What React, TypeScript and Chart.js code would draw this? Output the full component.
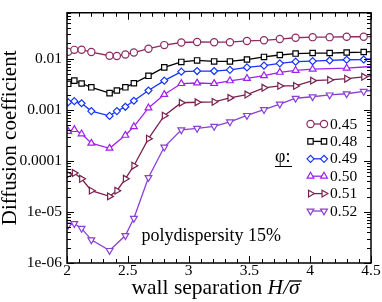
import React, { useEffect, useRef } from 'react';
import { Chart, registerables } from 'chart.js';
import { drawPoint } from 'chart.js/helpers';

Chart.register(...registerables);

// wall separation H/sigma (x values)
const H = [2.01, 2.06, 2.12, 2.2, 2.35, 2.41, 2.48, 2.55, 2.67, 2.8, 2.94, 3.07, 3.21, 3.34, 3.48, 3.62, 3.75, 3.88, 4.02, 4.16, 4.3, 4.44, 4.58];

const phiLabels = ['0.45', '0.48', '0.49', '0.50', '0.51', '0.52'];

const D045 = [0.0137, 0.015, 0.0151, 0.0136, 0.0115, 0.0114, 0.0122, 0.0133, 0.0158, 0.0186, 0.0209, 0.0214, 0.0212, 0.0212, 0.0224, 0.0231, 0.0244, 0.0259, 0.0266, 0.0266, 0.0271, 0.0271, 0.0273];
const D048 = [0.00324, 0.00374, 0.00329, 0.00277, 0.00213, 0.0024, 0.00277, 0.00333, 0.00465, 0.0068, 0.0087, 0.0093, 0.0089, 0.0089, 0.0097, 0.0109, 0.0119, 0.0127, 0.013, 0.013, 0.0133, 0.0136, 0.0143];
const D049 = [0.00141, 0.00148, 0.00135, 0.000946, 0.000762, 0.000946, 0.00115, 0.00151, 0.0024, 0.00374, 0.0056, 0.00577, 0.00577, 0.0061, 0.0068, 0.00738, 0.00816, 0.0088, 0.009, 0.0093, 0.0096, 0.0097, 0.0103];
const D050 = [3.78e-4, 4.12e-4, 3.39e-4, 2.22e-4, 1.77e-4, null, 3.18e-4, 4.69e-4, 1.09e-3, 2.0e-3, 3.28e-3, 3.36e-3, 3.28e-3, 3.71e-3, 4.14e-3, 4.69e-3, 5.45e-3, 5.95e-3, 6.29e-3, null, 6.57e-3, null, 7.3e-3];
const D051 = [5.38e-5, 5.79e-5, 4.47e-5, 2.61e-5, 2.02e-5, 2.61e-5, 4.47e-5, 8.05e-5, 2.73e-4, 7.71e-4, 1.38e-3, 1.41e-3, 1.44e-3, 1.72e-3, 2.0e-3, 2.71e-3, 2.95e-3, 2.95e-3, 3.74e-3, 3.86e-3, 4.08e-3, 4.45e-3, 4.96e-3];
const D052 = [5.55e-6, 5.92e-6, 4.77e-6, 2.84e-6, 1.76e-6, null, 3.45e-6, 7.52e-6, 4.73e-5, 1.87e-4, 4.06e-4, 4.36e-4, 4.75e-4, 5.82e-4, 7.78e-4, 1.01e-3, 1.3e-3, 1.69e-3, 1.81e-3, 1.96e-3, 2.07e-3, 2.3e-3, 2.54e-3];

const seriesValues = [D045, D048, D049, D050, D051, D052];

const xTickValues = [2, 2.5, 3, 3.5, 4, 4.5];
const xTickLabels = ['2', '2.5', '3', '3.5', '4', '4.5'];
const yTickValues = [1e-6, 1e-5, 1e-4, 1e-3, 1e-2];
const yTickLabels = ['1e-06', '1e-05', '0.0001', '0.001', '0.01'];

const SERIF = '"Liberation Serif", "DejaVu Serif", "Times New Roman", serif';

const seriesStyles = [
  { color: '#8B2C62', pointStyle: 'circle', rotation: 0, radius: 3.6 },
  { color: '#000000', pointStyle: 'rect', rotation: 0, radius: 3.8 },
  { color: '#1535FF', pointStyle: 'rectRot', rotation: 0, radius: 3.5 },
  { color: '#A020F0', pointStyle: 'triangle', rotation: 0, radius: 3.9 },
  { color: '#7A2150', pointStyle: 'triangle', rotation: 90, radius: 3.9 },
  { color: '#8A3FD6', pointStyle: 'triangle', rotation: 180, radius: 3.9 },
];

const decorPlugin = {
  id: 'decor',
  afterDraw(chart: any) {
    const { ctx, chartArea: a, scales } = chart;
    const xs = scales.x;
    const ys = scales.y;
    ctx.save();
    ctx.strokeStyle = '#000';
    ctx.lineWidth = 1;
    ctx.beginPath();
    for (let i = 0; i <= 25; i++) {
      const v = 2 + i * 0.1;
      const px = Math.round(xs.getPixelForValue(v)) + 0.5;
      const len = i % 5 === 0 ? 7 : 4;
      ctx.moveTo(px, a.bottom);
      ctx.lineTo(px, a.bottom - len);
      ctx.moveTo(px, a.top);
      ctx.lineTo(px, a.top + len);
    }
    for (let e = -6; e <= -2; e++) {
      for (let m = 1; m <= 9; m++) {
        const v = m * Math.pow(10, e);
        if (v > ys.max) break;
        const py = Math.round(ys.getPixelForValue(v)) + 0.5;
        const len = m === 1 ? 7 : 4;
        ctx.moveTo(a.left, py);
        ctx.lineTo(a.left + len, py);
        ctx.moveTo(a.right, py);
        ctx.lineTo(a.right - len, py);
      }
    }
    ctx.stroke();
    ctx.lineWidth = 1.5;
    ctx.strokeRect(a.left, a.top, a.right - a.left, a.bottom - a.top);

    // y title
    ctx.fillStyle = '#000';
    ctx.save();
    ctx.translate(16, (a.top + a.bottom) / 2);
    ctx.rotate(-Math.PI / 2);
    ctx.font = `21px ${SERIF}`;
    ctx.textAlign = 'center';
    ctx.textBaseline = 'alphabetic';
    ctx.fillText('Diffusion coefficient', 0, 0);
    ctx.restore();

    // x title
    ctx.textAlign = 'left';
    ctx.textBaseline = 'alphabetic';
    const base = 293.5;
    let x = 131.5;
    ctx.font = `21.5px ${SERIF}`;
    const t1 = 'wall separation ';
    ctx.fillText(t1, x, base);
    x += ctx.measureText(t1).width;
    ctx.font = `italic 21.5px ${SERIF}`;
    const t2 = 'H/';
    ctx.fillText(t2, x, base);
    x += ctx.measureText(t2).width;
    const t3 = 'σ';
    ctx.fillText(t3, x, base);
    const w3 = ctx.measureText(t3).width;
    ctx.lineWidth = 1.4;
    ctx.beginPath();
    ctx.moveTo(x + 1, 281);
    ctx.lineTo(x + w3 + 2, 281);
    ctx.stroke();

    // legend
    ctx.font = `15.5px ${SERIF}`;
    ctx.textBaseline = 'middle';
    for (let i = 0; i < seriesStyles.length; i++) {
      const s = seriesStyles[i];
      const yy = 124 + 17.4 * i;
      ctx.strokeStyle = s.color;
      ctx.lineWidth = 1.3;
      ctx.beginPath();
      ctx.moveTo(310.5, yy);
      ctx.lineTo(324, yy);
      ctx.stroke();
      ctx.fillStyle = '#fff';
      ctx.lineWidth = 1.2;
      const opts = { pointStyle: s.pointStyle, rotation: s.rotation, radius: s.radius, borderWidth: 1.2 };
      drawPoint(ctx, opts as any, 310.5, yy);
      drawPoint(ctx, opts as any, 324, yy);
      ctx.fillStyle = '#000';
      ctx.fillText(phiLabels[i], 330, yy + 0.5);
    }

    // phi label
    ctx.font = `18px ${SERIF}`;
    ctx.textBaseline = 'middle';
    ctx.fillText('φ:', 275, 157);
    ctx.strokeStyle = '#000';
    ctx.lineWidth = 1;
    ctx.beginPath();
    ctx.moveTo(275, 166.5);
    ctx.lineTo(292, 166.5);
    ctx.stroke();

    // annotation
    ctx.font = `18px ${SERIF}`;
    ctx.textBaseline = 'alphabetic';
    ctx.fillText('polydispersity 15%', 141.5, 240.5);
    ctx.restore();
  },
};

export default function App() {
  const ref = useRef<HTMLCanvasElement | null>(null);
  useEffect(() => {
    if (!ref.current) return;
    const datasets = seriesValues.map((vals, k) => {
      const s = seriesStyles[k];
      return {
        label: phiLabels[k],
        data: H.map((h, i) => ({ x: h, y: vals[i] })).filter((p) => p.y !== null),
        borderColor: s.color,
        borderWidth: 1.3,
        pointStyle: s.pointStyle,
        rotation: s.rotation,
        pointRotation: s.rotation,
        pointRadius: s.radius,
        pointBorderWidth: 1.2,
        pointBorderColor: s.color,
        pointBackgroundColor: '#ffffff',
        tension: 0,
        fill: false,
      };
    });
    const chart = new Chart(ref.current, {
      type: 'line',
      data: { datasets } as any,
      options: {
        responsive: false,
        animation: false,
        layout: { padding: { left: 0, right: 11, top: 2, bottom: 0 } },
        plugins: { legend: { display: false }, tooltip: { enabled: false } },
        scales: {
          x: {
            type: 'linear',
            min: 2,
            max: 4.5,
            afterBuildTicks: (s: any) => {
              s.ticks = xTickValues.map((v) => ({ value: v }));
            },
            afterFit: (s: any) => {
              s.height = 39;
            },
            grid: { display: false, drawTicks: false },
            border: { display: false },
            ticks: {
              autoSkip: false,
              maxRotation: 0,
              padding: 0,
              color: '#000',
              font: { family: SERIF, size: 15.5, lineHeight: 1 },
              callback: (_v: any, i: number) => xTickLabels[i],
            },
          },
          y: {
            type: 'logarithmic',
            min: 1e-6,
            max: 0.08,
            afterBuildTicks: (s: any) => {
              s.ticks = yTickValues.map((v) => ({ value: v }));
            },
            afterFit: (s: any) => {
              s.width = 67;
            },
            grid: { display: false, drawTicks: false },
            border: { display: false },
            ticks: {
              autoSkip: false,
              padding: 5,
              color: '#000',
              font: { family: SERIF, size: 15.5, lineHeight: 1 },
              callback: (_v: any, i: number) => yTickLabels[i],
            },
          },
        },
      } as any,
      plugins: [decorPlugin],
    });
    return () => chart.destroy();
  }, []);
  return (
    <div style={{ position: 'absolute', left: 0, top: 0, width: 382, height: 302, background: '#fff' }}>
      <canvas ref={ref} width={382} height={302} style={{ display: 'block' }} />
    </div>
  );
}
